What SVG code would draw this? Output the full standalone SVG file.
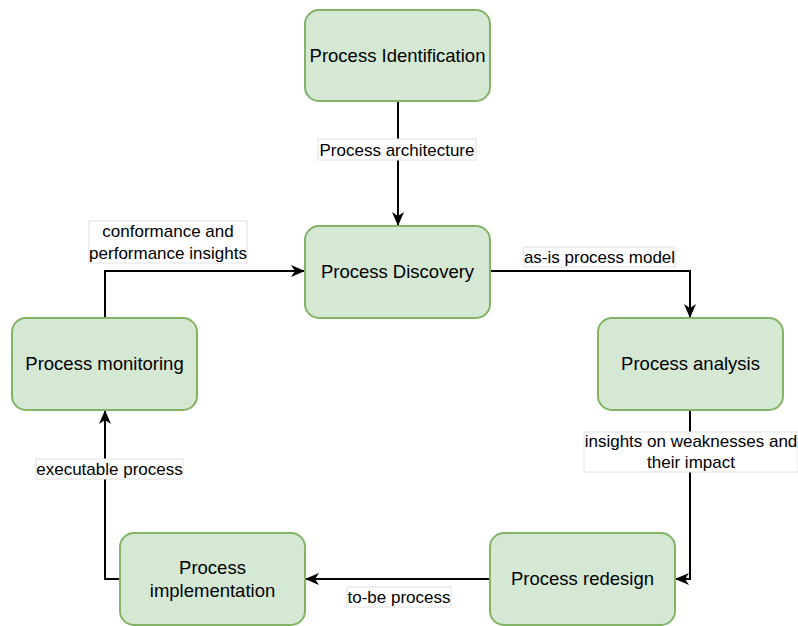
<svg xmlns="http://www.w3.org/2000/svg" width="798" height="626" viewBox="0 0 798 626">
<style>
.node{fill:#d5e8d4;stroke:#82b366;stroke-width:2}
.nt{font-family:"Liberation Sans",Arial,sans-serif;font-size:18.5px;fill:#000;text-anchor:middle}
.el{fill:none;stroke:#000;stroke-width:2}
.lb{fill:#fff;stroke:#e0e0e0;stroke-width:1}
.lt{font-family:"Liberation Sans",Arial,sans-serif;font-size:17px;fill:#000;text-anchor:middle}
</style>
<defs>
<marker id="arr" viewBox="0 0 14 14" refX="13" refY="7" markerWidth="14" markerHeight="14" markerUnits="userSpaceOnUse" orient="auto">
<path d="M0,1 L14,7 L0,13 L4,7 z" fill="#000"/>
</marker>
</defs>
<rect width="798" height="626" fill="#fff"/>
<g id="connectors">
<path class="el" d="M398,101 L398,225" marker-end="url(#arr)"/>
<path class="el" d="M490,271 L690,271 L690,317" marker-end="url(#arr)"/>
<path class="el" d="M690,410 L690,579 L676,579" marker-end="url(#arr)"/>
<path class="el" d="M490,579 L306,579" marker-end="url(#arr)"/>
<path class="el" d="M120,579 L105,579 L105,411" marker-end="url(#arr)"/>
<path class="el" d="M105,318 L105,271 L304,271" marker-end="url(#arr)"/>
<g id="label-architecture"><rect class="lb" x="318" y="139" width="158" height="21"/><text class="lt" x="397" y="155.5">Process architecture</text></g>
<g id="label-asis"><rect class="lb" x="524" y="247" width="151" height="20"/><text class="lt" x="599.5" y="263">as-is process model</text></g>
<g id="label-insights"><rect class="lb" x="584" y="432" width="214" height="40"/><text class="lt" x="691" y="447">insights on weaknesses and</text><text class="lt" x="691" y="468">their impact</text></g>
<g id="label-tobe"><rect class="lb" x="347" y="587" width="104" height="20"/><text class="lt" x="399" y="603">to-be process</text></g>
<g id="label-exec"><rect class="lb" x="36" y="459" width="147" height="20"/><text class="lt" x="109.5" y="475">executable process</text></g>
<g id="label-conf"><rect class="lb" x="89" y="221" width="158" height="42"/><text class="lt" x="168" y="237">conformance and</text><text class="lt" x="168" y="259">performance insights</text></g>
</g>
<g id="n-identification"><rect class="node" x="305" y="10" width="185" height="91" rx="14"/><text class="nt" x="397.5" y="61.5">Process Identification</text></g>
<g id="n-discovery"><rect class="node" x="305" y="226" width="185" height="92" rx="14"/><text class="nt" x="397.5" y="278">Process Discovery</text></g>
<g id="n-analysis"><rect class="node" x="598" y="318" width="185" height="92" rx="14"/><text class="nt" x="690.5" y="370">Process analysis</text></g>
<g id="n-redesign"><rect class="node" x="490" y="533" width="185" height="92" rx="14"/><text class="nt" x="582.5" y="585">Process redesign</text></g>
<g id="n-implementation"><rect class="node" x="120" y="533" width="185" height="92" rx="14"/><text class="nt" x="212.5" y="574">Process</text><text class="nt" x="212.5" y="597">implementation</text></g>
<g id="n-monitoring"><rect class="node" x="12" y="318" width="185" height="92" rx="14"/><text class="nt" x="104.5" y="370">Process monitoring</text></g>
</svg>
